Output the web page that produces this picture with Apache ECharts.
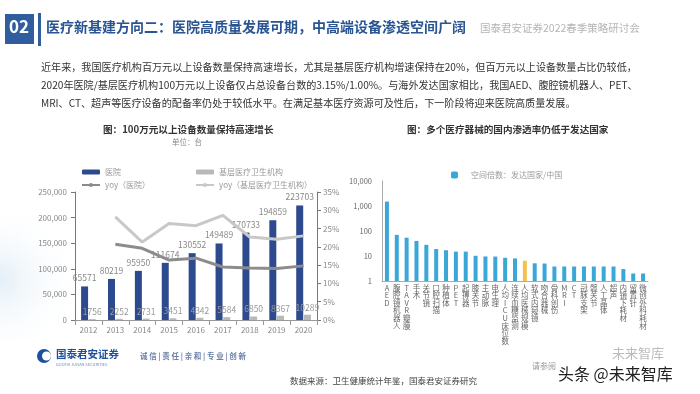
<!DOCTYPE html>
<html><head><meta charset="utf-8">
<script src="https://cdn.jsdelivr.net/npm/echarts@6/dist/echarts.min.js"></script>
<style>html,body{margin:0;padding:0;background:#fff}#c{width:700px;height:394px}</style>
</head><body><div id="c"></div>
<script>
var years = ['2012','2013','2014','2015','2016','2017','2018','2019','2020'];
var hospital = [65571,80219,95950,111674,130552,149489,170733,194859,223703];
var grassroots = [1756,2252,2731,3451,4342,5584,6850,8367,10289];
var yoyHospital = [null,0.207,0.196,0.164,0.169,0.145,0.142,0.141,0.148];
var yoyGrass = [null,0.282,0.213,0.264,0.258,0.286,0.227,0.221,0.230];

var devices = ['AED','腹腔镜机器人','TAVR瓣膜','手术','关节镜','口腔扫描','种植体','PET','起搏器','膝关节','主动脉','电生理','人均ICU床位数','连续血糖监测','人均医械规模','软式内窥镜','吻合器械','骨科创伤','MRI','CT','冠脉支架','髋关节','人工晶体','超声','内镜下耗材','留置针','微创外科耗材'];
var multiples = [1500,70,54,40,28,19,17,15,15,10.2,9.6,9.5,8.5,8,6.5,5.1,5,3.8,3.8,3.8,3.8,3.8,3.8,3.8,3,2,2];
var highlightIndex = 14;

var FONT = '"Noto Sans CJK SC", "Noto Sans", sans-serif';
var chart = echarts.init(document.getElementById('c'), null, {renderer:'canvas'});

function fmtNum(v){ return String(v).replace(/\B(?=(\d{3})+(?!\d))/g, ','); }

var option = {
  animation:false,
  textStyle:{fontFamily:FONT},
  graphic:[
    {type:'rect', z:-10, shape:{x:0,y:190,width:90,height:150}, style:{fill:new echarts.graphic.RadialGradient(0,0.6,0.9,[{offset:0,color:'rgba(205,225,240,0.55)'},{offset:1,color:'rgba(255,255,255,0)'}])}},
    {type:'rect', shape:{x:5,y:14,width:29,height:30}, style:{fill:'#2f5d9e'}},
    {type:'text', left:9, top:18, style:{text:'02', fill:'#fff', font:'bold 17px '+FONT}},
    {type:'rect', shape:{x:38,y:13,width:3,height:33}, style:{fill:'#2f5d9e'}},
    {type:'text', left:46, top:20, style:{text:'医疗新基建方向二：医院高质量发展可期，中高端设备渗透空间广阔', fill:'#2a5592', font:'bold 14px '+FONT}},
    {type:'text', left:480, top:23, style:{text:'国泰君安证券2022春季策略研讨会', fill:'#b5b5b5', font:'10.5px '+FONT}},
    {type:'text', left:41, top:62, style:{text:'近年来，我国医疗机构百万元以上设备数量保持高速增长，尤其是基层医疗机构增速保持在20%，但百万元以上设备数量占比仍较低，', fill:'#333', font:'10.1px '+FONT}},
    {type:'text', left:41, top:80, style:{text:'2020年医院/基层医疗机构100万元以上设备仅占总设备台数的3.15%/1.00%。与海外发达国家相比，我国AED、腹腔镜机器人、PET、', fill:'#333', font:'10.1px '+FONT}},
    {type:'text', left:41, top:98, style:{text:'MRI、CT、超声等医疗设备的配备率仍处于较低水平。在满足基本医疗资源可及性后，下一阶段将迎来医院高质量发展。', fill:'#333', font:'10.1px '+FONT}},
    {type:'text', left:103, top:125, style:{text:'图：100万元以上设备数量保持高速增长', fill:'#333', font:'bold 9.6px '+FONT}},
    {type:'text', left:172, top:138, style:{text:'单位：台', fill:'#888', font:'7.5px '+FONT}},
    {type:'text', left:407, top:125, style:{text:'图：多个医疗器械的国内渗透率仍低于发达国家', fill:'#333', font:'bold 9.6px '+FONT}},
    {type:'circle', shape:{cx:44,cy:356,r:7}, style:{fill:'#1c4f9c'}},
    {type:'circle', shape:{cx:46.5,cy:356,r:4.5}, style:{fill:'#fff'}},
    {type:'text', left:56, top:349, style:{text:'国泰君安证券', fill:'#1c4f9c', font:'bold 10.5px '+FONT}},
    {type:'text', left:56, top:362, style:{text:'GUOTAI JUNAN SECURITIES', fill:'#6d89b8', font:'4px '+FONT}},
    {type:'text', left:140, top:352, style:{text:'诚 信 | 责 任 | 亲 和 | 专 业 | 创 新', fill:'#6a7fa8', font:'bold 7.5px '+FONT}},
    {type:'text', left:290, top:377, style:{text:'数据来源：卫生健康统计年鉴，国泰君安证券研究', fill:'#444', font:'8.5px '+FONT}},
    {type:'text', left:532, top:362, style:{text:'请参阅', fill:'#999', font:'8px '+FONT}},
    {type:'text', left:612, top:347, style:{text:'未来智库', fill:'#bbb', font:'13px '+FONT}},
    {type:'text', left:558, top:366, style:{text:'头条 @未来智库', fill:'#222', font:'16px '+FONT}}
  ],
  legend:[
    {left:76, top:163, orient:'vertical', itemGap:5, itemWidth:18, itemHeight:5, data:['医院','yoy（医院）'], textStyle:{color:'#999', fontSize:8, fontFamily:FONT}},
    {left:190, top:163, orient:'vertical', itemGap:5, itemWidth:18, itemHeight:5, data:['基层医疗卫生机构','yoy（基层医疗卫生机构）'], textStyle:{color:'#999', fontSize:8, fontFamily:FONT}},
    {left:446, top:166, itemWidth:7, itemHeight:7, itemGap:10, data:[{name:'空间倍数：发达国家/中国', itemStyle:{color:'#3ba7d6'}}], textStyle:{color:'#999', fontSize:8, fontFamily:FONT, padding:[0,0,0,8]}}
  ],
  grid:[
    {left:75, right:383, top:192, bottom:74},
    {left:382, right:52, top:181, bottom:113}
  ],
  xAxis:[
    {type:'category', gridIndex:0, data:years, axisLine:{lineStyle:{color:'#999'}}, axisTick:{show:true, lineStyle:{color:'#999'}}, axisLabel:{color:'#888', fontSize:8, margin:6}},
    {type:'category', gridIndex:1, data:devices, axisLine:{lineStyle:{color:'#aaa'}}, axisTick:{show:false},
      axisLabel:{interval:0, color:'#666', fontSize:7.5, lineHeight:7.6, margin:3, verticalAlign:'top',
        formatter:function(v){ return v.split('').join('\n'); }}}
  ],
  yAxis:[
    {type:'value', gridIndex:0, min:0, max:250000, interval:50000, splitLine:{show:false},
      axisLine:{show:true, lineStyle:{color:'#777'}}, axisTick:{show:true, length:4, lineStyle:{color:'#777'}},
      axisLabel:{color:'#888', fontSize:8, formatter:function(v){return fmtNum(v);}, margin:8}},
    {type:'value', gridIndex:0, min:0, max:0.35, interval:0.05, splitLine:{show:false}, position:'right',
      axisLine:{show:true, lineStyle:{color:'#777'}}, axisTick:{show:true, length:4, lineStyle:{color:'#777'}},
      axisLabel:{color:'#888', fontSize:8, formatter:function(v){return Math.round(v*100)+'%';}, margin:6}},
    {type:'log', gridIndex:1, min:1, max:10000, logBase:10, splitLine:{show:false},
      axisLine:{show:true, lineStyle:{color:'#aaa'}}, axisTick:{show:false},
      axisLabel:{color:'#666', fontSize:7.5, formatter:function(v){return fmtNum(v);}, margin:10}}
  ],
  series:[
    {name:'医院', type:'bar', xAxisIndex:0, yAxisIndex:0, data:hospital, barWidth:7, barGap:'10%',
      itemStyle:{color:'#2e4a8e'}, label:{show:true, position:'top', color:'#888', fontSize:8.5, distance:4}},
    {name:'基层医疗卫生机构', type:'bar', xAxisIndex:0, yAxisIndex:0, data:grassroots, barWidth:7,
      itemStyle:{color:'#b9b9b9'}, label:{show:true, position:'top', color:'#999', fontSize:8.5, distance:3}},
    {name:'yoy（医院）', type:'line', xAxisIndex:0, yAxisIndex:1, data:yoyHospital, symbol:'none', legendIcon:'rect',
      lineStyle:{color:'#8c8c8c', width:3}, itemStyle:{color:'#8c8c8c'}},
    {name:'yoy（基层医疗卫生机构）', type:'line', xAxisIndex:0, yAxisIndex:1, data:yoyGrass, symbol:'none', legendIcon:'rect',
      lineStyle:{color:'#c8c8c8', width:3}, itemStyle:{color:'#c8c8c8'}},
    {name:'空间倍数：发达国家/中国', type:'bar', xAxisIndex:1, yAxisIndex:2, data:multiples, barWidth:4,
      itemStyle:{color:function(p){ return p.dataIndex===highlightIndex ? '#f2c14e' : '#3ba7d6'; }}}
  ]
};
chart.setOption(option);
</script></body></html>
